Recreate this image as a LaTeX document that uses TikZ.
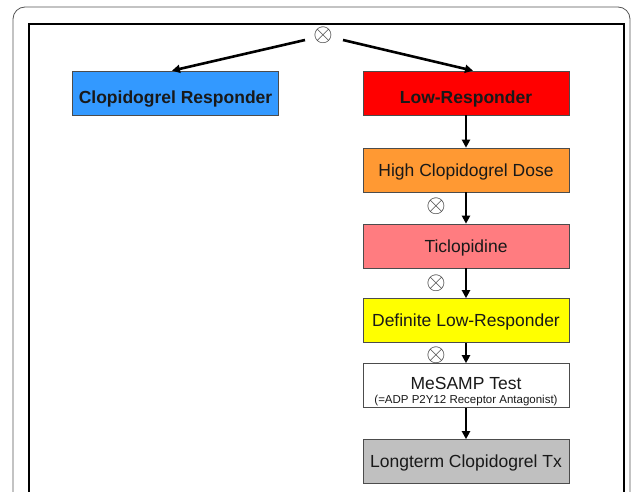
\documentclass[tikz,border=0pt]{standalone}
\usepackage{fontspec}
\setmainfont{Liberation Sans}
\usetikzlibrary{arrows.meta}
\definecolor{cblue}{HTML}{3399FF}
\definecolor{cred}{HTML}{FF0000}
\definecolor{corange}{HTML}{FF9933}
\definecolor{cpink}{HTML}{FF7C80}
\definecolor{cyellow}{HTML}{FFFF00}
\definecolor{cgray}{HTML}{C0C0C0}
\definecolor{cframe}{HTML}{555555}
\begin{document}
\begin{tikzpicture}[x=1pt,y=-1pt,
  box/.style={draw=black!70, line width=0.6pt, minimum width=206pt, minimum height=44pt, inner sep=0pt, font=\fontsize{17.5}{19}\selectfont, text=black!90},
  oneline/.style={text height=12.6pt, text depth=0pt},
  boldbox/.style={font=\fontsize{17.5}{19}\selectfont\bfseries, text height=12.6pt, text depth=0pt},
  flow/.style={line width=2.6pt, -{Triangle[length=8pt,width=8pt]}},
  knot/.style={circle, inner sep=0pt, minimum size=0pt, text=black!80, font=\fontsize{24}{24}\selectfont}]
\useasboundingbox (0,0) rectangle (632,492);
\fill[white] (0,0) rectangle (632,492);
% outer frame
\draw[cframe, line width=0.8pt, rounded corners=12pt] (13,500) -- (13,7) -- (630,7) -- (630,500);
% inner frame
\draw[black, line width=1.4pt] (29,500) -- (29,24) -- (624,24) -- (624,500);
% nodes
\node[knot] (k0) at (323,35) {$\otimes$};
\node[box, fill=cblue, boldbox] (resp) at (175.5,93) {\raisebox{-4pt}{Clopidogrel Responder}};
\node[box, fill=cred, boldbox] (low) at (466,93) {\raisebox{-4pt}{Low-Responder}};
\node[box, fill=corange, oneline] (high) at (466,170) {High Clopidogrel Dose};
\node[box, fill=cpink, oneline] (ticl) at (466,246) {Ticlopidine};
\node[box, fill=cyellow, oneline] (def) at (466,320.5) {Definite Low-Responder};
\node[box, fill=white, text height=39.5pt, text depth=4pt] (mes) at (466,385.5) {\begin{tabular}[b]{@{}c@{}}MeSAMP Test\\[-5.5pt]{\fontsize{11.5}{12}\selectfont(=ADP P2Y12 Receptor Antagonist)}\end{tabular}};
\node[box, fill=cgray, oneline] (long) at (466,461.5) {Longterm Clopidogrel Tx};
\node[knot] (k1) at (436,206) {$\otimes$};
\node[knot] (k2) at (436,283) {$\otimes$};
\node[knot] (k3) at (436,355) {$\otimes$};
% connectors
\coordinate (l0) at (305,40);
\coordinate (r0) at (343,40);
\draw[flow] (l0) -- (resp.north -| 172,0);
\draw[flow] (r0) -- (low.north -| 473,0);
\draw[flow] (low) -- (high);
\draw[flow] (high) -- (ticl);
\draw[flow] (ticl) -- (def);
\draw[flow] (def) -- (mes);
\draw[flow] (mes) -- (long);
\end{tikzpicture}
\end{document}
